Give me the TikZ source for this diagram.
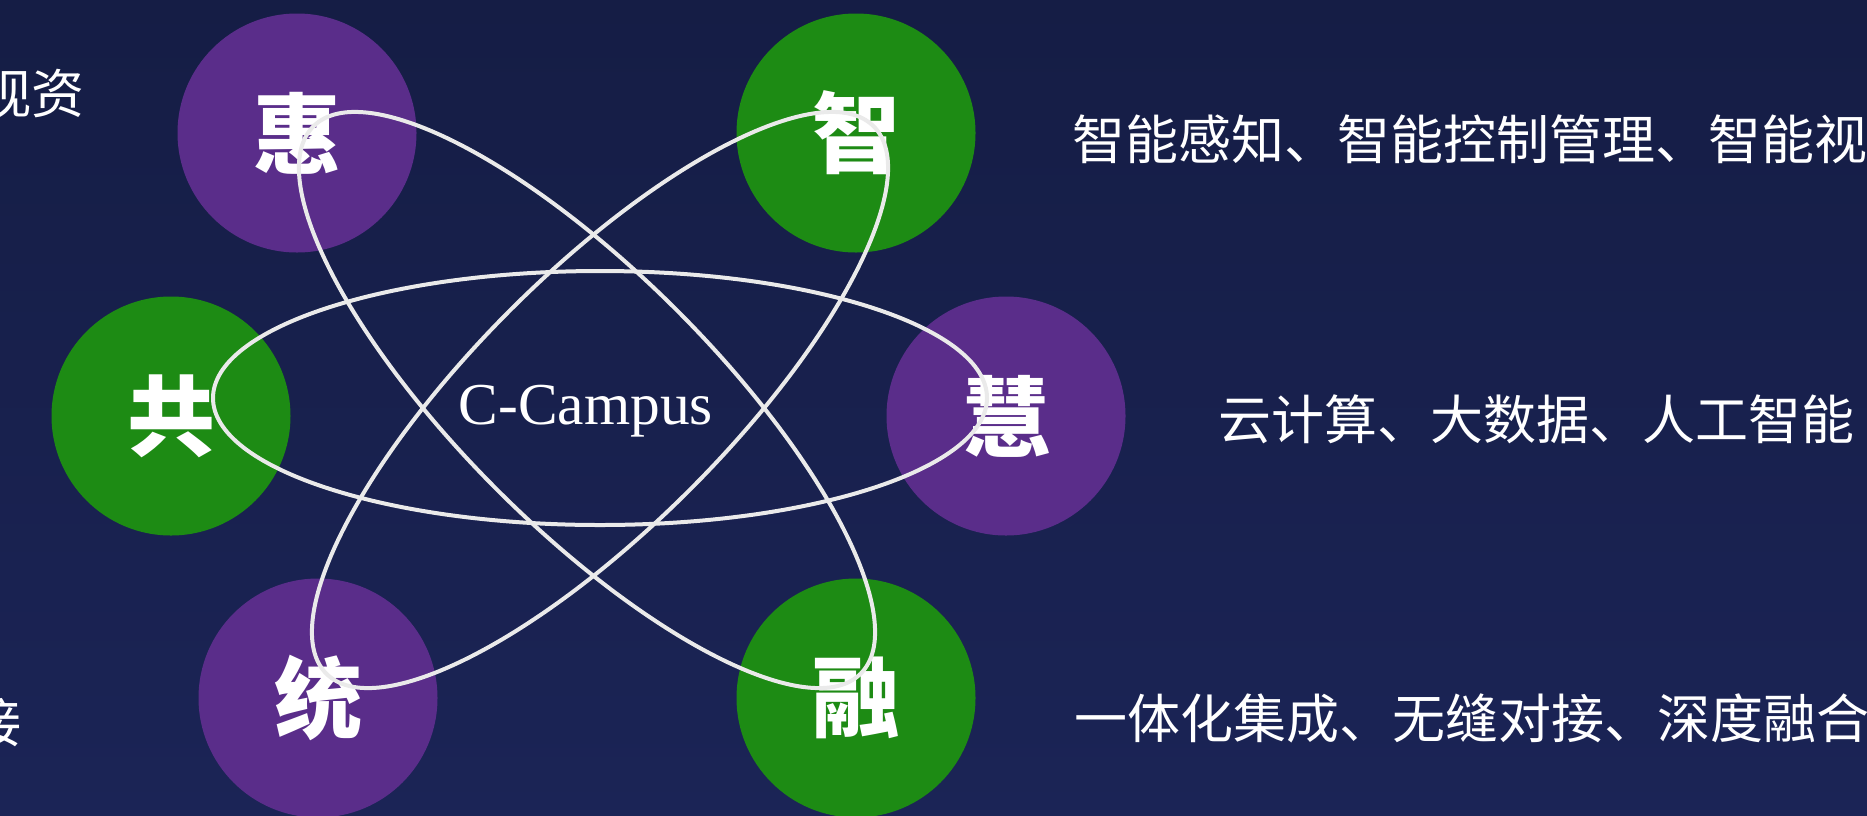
\documentclass[tikz,border=0pt]{standalone}
\usepackage{fontspec}
\setmainfont{Liberation Serif}
\newfontfamily\cjk{Noto Sans CJK SC}
\definecolor{cpurple}{HTML}{5A2D8A}
\definecolor{cgreen}{HTML}{1D8B14}
\definecolor{orbitc}{HTML}{EAEAEA}
\definecolor{bgtop}{HTML}{151D45}
\definecolor{bgbot}{HTML}{1B2456}
\begin{document}
\begin{tikzpicture}[x=0.5pt,y=-0.5pt,
  bubble/.style={circle, minimum size=119.5pt, inner sep=0pt, text=white, font=\cjk\bfseries\fontsize{44pt}{44pt}\selectfont},
  purp/.style={bubble, fill=cpurple},
  gren/.style={bubble, fill=cgreen},
  orbit/.style={draw=orbitc, line width=2pt},
  desc/.style={text=white, font=\cjk\fontsize{26.5pt}{26.5pt}\selectfont, inner sep=0pt, anchor=west}]
\useasboundingbox (0,0) rectangle (1867,815);
\shade[top color=bgtop, bottom color=bgbot] (0,0) rectangle (1867,815);
% circles
\node[purp] (hui) at (297,133) {惠};
\node[gren] (zhi) at (856,133) {智};
\node[gren] (gong) at (171,416) {共};
\node[purp] (huiw) at (1006,416) {慧};
\node[purp] (tong) at (318,698) {统};
\node[gren] (rong) at (856,698) {融};
% orbits
\coordinate (c0) at (600,398);
\coordinate (cA) at (587,400);
\coordinate (cB) at (600,400);
\draw[orbit] (c0) ellipse [x radius=193.5pt, y radius=63.5pt];
\draw[orbit, rotate around={-45:(cA)}] (cA) ellipse [x radius=193.5pt, y radius=63.5pt];
\draw[orbit, rotate around={45:(cB)}] (cB) ellipse [x radius=193.5pt, y radius=63.5pt];
% texts
\node[text=white, font=\fontsize{29.7pt}{30pt}\selectfont, anchor=base, inner sep=0pt] (cc) at (586,424) {C-Campus};
\node[desc] (t1) at (1072,139) {智能感知、智能控制管理、智能视};
\node[desc] (t2) at (1218,419) {云计算、大数据、人工智能};
\node[desc] (t3) at (1074,718) {一体化集成、无缝对接、深度融合};
\node[desc, anchor=east] (l1) at (85,93) {视资};
\node[desc, anchor=east] (l3) at (22,722) {接};
\end{tikzpicture}
\end{document}
